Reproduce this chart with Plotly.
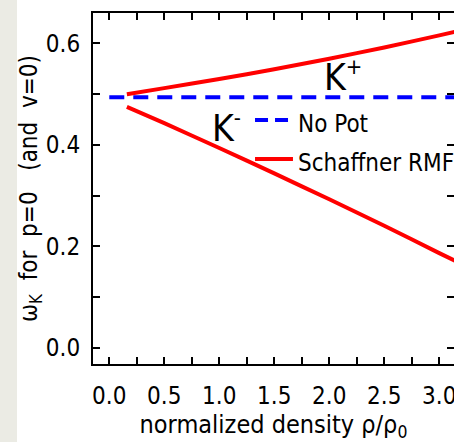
import plotly.graph_objects as go

# Kaon energy at rest vs. normalized nuclear density
density = [0.16, 0.5, 1.0, 1.5, 2.0, 2.5, 3.0, 3.2]
k_plus_rmf = [0.500, 0.512, 0.530, 0.549, 0.570, 0.592, 0.616, 0.626]
k_minus_rmf = [0.475, 0.443, 0.394, 0.344, 0.293, 0.241, 0.187, 0.166]
nopot_density = [0.0, 3.3]
nopot_energy = [0.494, 0.494]

FONT = "Liberation Sans Narrow, DejaVu Sans Condensed, Arial Narrow, sans-serif"
RED = "#ff0000"
BLUE = "#0000ff"
XR = [-0.148, 3.134]
YR = [-0.0315, 0.660]

fig = go.Figure()

fig.add_trace(go.Scatter(x=nopot_density, y=nopot_energy, mode="lines",
                         line=dict(color=BLUE, width=4, dash="15px,9px"),
                         name="No Pot", showlegend=False, hoverinfo="skip"))
fig.add_trace(go.Scatter(x=density, y=k_plus_rmf, mode="lines",
                         line=dict(color=RED, width=4, shape="spline",
                                   smoothing=0.6),
                         name="Schaffner RMF", showlegend=False))
fig.add_trace(go.Scatter(x=density, y=k_minus_rmf, mode="lines",
                         line=dict(color=RED, width=4, shape="spline",
                                   smoothing=0.6),
                         name="Schaffner RMF", showlegend=False))
# carrier for the right-hand tick axis
fig.add_trace(go.Scatter(x=[None], y=[None], yaxis="y2", showlegend=False,
                         hoverinfo="skip"))

# hand-placed legend
fig.add_shape(type="line", x0=1.325, x1=1.67, y0=0.449, y1=0.449,
              line=dict(color=BLUE, width=4, dash="13px,7px"))
fig.add_shape(type="line", x0=1.325, x1=1.67, y0=0.3724, y1=0.3724,
              line=dict(color=RED, width=4))
fig.add_annotation(x=1.70, y=0.441, text="No Pot", showarrow=False,
                   xanchor="left", yanchor="middle",
                   font=dict(family=FONT, size=24, color="black"))
fig.add_annotation(x=1.70, y=0.365, text="Schaffner RMF", showarrow=False,
                   xanchor="left", yanchor="middle",
                   font=dict(family=FONT, size=24, color="black"))

# branch labels
fig.add_annotation(x=1.93, y=0.535,
                   text="K<sup><span style='font-size:22px'>+</span></sup>",
                   showarrow=False, xanchor="left", yanchor="middle",
                   font=dict(family=FONT, size=37, color="black"))
fig.add_annotation(x=0.92, y=0.435,
                   text="K<sup><span style='font-size:22px'>-</span></sup>",
                   showarrow=False, xanchor="left", yanchor="middle",
                   font=dict(family=FONT, size=37, color="black"))

# grey strip along the left edge of the page
fig.add_shape(type="rect", xref="paper", yref="paper",
              x0=-0.26, x1=-0.2105, y0=-0.3, y1=1.1,
              fillcolor="#ebebe4", line=dict(width=0), layer="below")

axis_common = dict(showgrid=False, zeroline=False, linecolor="black",
                   linewidth=2, ticks="inside", ticklen=7, tickwidth=2,
                   tickcolor="black", automargin=False,
                   ticklabeloverflow="allow",
                   tickfont=dict(family=FONT, size=24, color="black"))

fig.update_layout(
    width=454, height=442,
    margin=dict(l=93, r=0, t=13, b=78),
    paper_bgcolor="white", plot_bgcolor="white",
    template="none",
    xaxis=dict(range=XR, tick0=0, dtick=0.5, tickformat=".1f",
               showline=True, mirror="ticks", ticklabelstandoff=9,
               minor=dict(dtick=0.25, tick0=0, ticks="inside", ticklen=7,
                          tickwidth=2, tickcolor="black"),
               title=dict(text="normalized density \u03c1/\u03c1<sub>0</sub>",
                          standoff=10,
                          font=dict(family=FONT, size=25, color="black")),
               **axis_common),
    yaxis=dict(range=YR, tick0=0, dtick=0.2, tickformat=".1f",
               showline=True, mirror=False, ticklabelstandoff=6,
               minor=dict(dtick=0.1, tick0=0, ticks="inside", ticklen=7,
                          tickwidth=2, tickcolor="black"),
               title=dict(text="\u00a0\u00a0\u03c9<sub>K</sub>  for  p=0  \u00a0(and  v=0)",
                          standoff=0,
                          font=dict(family=FONT, size=24, color="black")),
               **axis_common),
    yaxis2=dict(range=YR, overlaying="y", side="right", anchor="x",
                tick0=0, dtick=0.2, showticklabels=False, showline=False,
                showgrid=False, zeroline=False, ticks="inside", ticklen=7,
                tickwidth=2, tickcolor="black",
                minor=dict(dtick=0.1, tick0=0, ticks="inside", ticklen=7,
                           tickwidth=2, tickcolor="black")),
    showlegend=False,
)

fig.write_html("out.html")
